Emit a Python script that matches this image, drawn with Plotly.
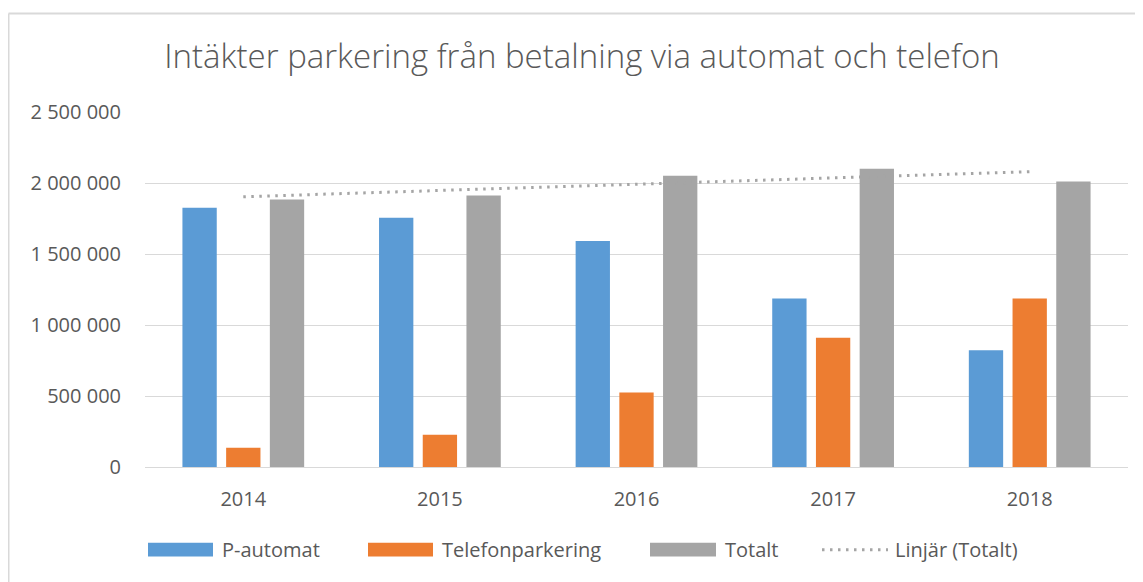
import numpy as np
import plotly.graph_objects as go

years = ["2014", "2015", "2016", "2017", "2018"]
p_automat = [1826000, 1756000, 1591000, 1187000, 822000]
telefon = [136000, 227000, 524000, 910000, 1187000]
totalt = [1884000, 1912000, 2051000, 2100000, 2011000]
y_ticks = [0, 500000, 1000000, 1500000, 2000000, 2500000]

title_text = "Intäkter parkering från betalning via automat och telefon"
names = ["P-automat", "Telefonparkering", "Totalt", "Linjär (Totalt)"]
colors = ["#5b9bd5", "#ed7d31", "#a5a5a5"]
trend_color = "#a5a5a5"
text_color = "#595959"
grid_color = "#d9d9d9"
FONT = "Open Sans"

# linear trend of totals (least squares)
xi = np.arange(1, len(totalt) + 1)
k, m = np.polyfit(xi, np.array(totalt, dtype=float), 1)
trend = (k * xi + m).tolist()

OFF = 8  # page body margin
W, H = 1143 - OFF, 582 - OFF
L, R, T, B = 145 - OFF, 1128 - OFF, 112 - OFF, 467.3 - OFF

fig = go.Figure()
for name, vals, c in zip(names[:3], [p_automat, telefon, totalt], colors):
    fig.add_trace(go.Bar(x=years, y=vals, name=name, marker=dict(color=c, line=dict(width=0)),
                         showlegend=False))
fig.add_trace(go.Scatter(x=years, y=trend, mode="lines", name=names[3], showlegend=False,
                         line=dict(color=trend_color, width=3, dash="2.5px,5.5px")))


def px_x(p):
    return (p - OFF - L) / (R - L)


def px_y(p):
    return (B - (p - OFF)) / (B - T)


shapes = []
# chart area border (left and top)
shapes.append(dict(type="line", xref="paper", yref="paper", x0=px_x(8.5), x1=px_x(8.5),
                   y0=px_y(13.3), y1=px_y(600), line=dict(color=grid_color, width=2)))
shapes.append(dict(type="line", xref="paper", yref="paper", x0=px_x(8.5), x1=px_x(1160),
                   y0=px_y(13.3), y1=px_y(13.3), line=dict(color=grid_color, width=2)))

# manual legend
leg_y = 550
leg_items = [(148, 213, 220), (368, 433, 440), (650, 716, 723), (822, 888, 893)]
annotations = []
for i, (s0, s1, tx) in enumerate(leg_items):
    if i < 3:
        shapes.append(dict(type="rect", xref="paper", yref="paper", x0=px_x(s0), x1=px_x(s1),
                           y0=px_y(leg_y + 7), y1=px_y(leg_y - 7), fillcolor=colors[i],
                           line=dict(width=0)))
    else:
        shapes.append(dict(type="line", xref="paper", yref="paper", x0=px_x(s0), x1=px_x(s1),
                           y0=px_y(leg_y), y1=px_y(leg_y),
                           line=dict(color=trend_color, width=3, dash="2.5px,5.5px")))
    annotations.append(dict(xref="paper", yref="paper", x=px_x(tx), y=px_y(leg_y), text=names[i],
                            showarrow=False, xanchor="left", yanchor="middle",
                            font=dict(family=FONT, size=20, color=text_color)))

fig.update_layout(
    width=W, height=H,
    margin=dict(l=L, r=W - R, t=T, b=H - B, pad=0),
    paper_bgcolor="white", plot_bgcolor="white",
    separators=", ",
    barmode="group", bargap=0.333, bargroupgap=0.215,
    title=dict(text=title_text, x=(582 - OFF) / W, xref="container", xanchor="center",
               y=1 - (56 - OFF) / H, yref="container", yanchor="middle",
               font=dict(family=FONT, size=33, color=text_color, weight=300)),
    font=dict(family=FONT, size=20, color=text_color),
    showlegend=False,
    shapes=shapes,
    annotations=annotations,
)
fig.update_yaxes(range=[0, 2500000], tickvals=y_ticks, tickformat=",d", showgrid=True,
                 gridcolor=grid_color, gridwidth=1, zeroline=False, showline=False,
                 ticks="", ticklabelstandoff=23,
                 tickfont=dict(family=FONT, size=20, color=text_color))
fig.update_xaxes(showline=True, linecolor=grid_color, linewidth=1, showgrid=False, ticks="",
                 ticklabelstandoff=14, tickfont=dict(family=FONT, size=20, color=text_color))

fig.write_html("out.html")
